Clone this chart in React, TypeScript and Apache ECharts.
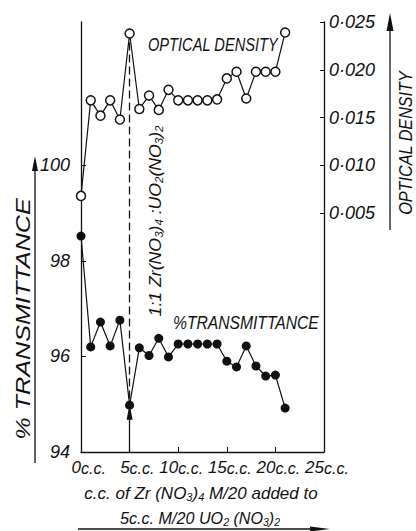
import React, { useEffect, useRef } from 'react';
import * as echarts from 'echarts';

const ccValues = [0, 1, 2, 3, 4, 5, 6, 7, 8, 9, 10, 11, 12, 13, 14, 15, 16, 17, 18, 19, 20, 21];
const opticalDensity = [0.0068, 0.0168, 0.0152, 0.0168, 0.0148, 0.0238, 0.0159, 0.0173, 0.0158, 0.0179, 0.0168, 0.0168, 0.0168, 0.0168, 0.0169, 0.0191, 0.0198, 0.017, 0.0198, 0.0198, 0.0198, 0.0239];
const transmittance = [98.52, 96.2, 96.72, 96.22, 96.76, 94.98, 96.18, 96.02, 96.38, 95.99, 96.26, 96.26, 96.26, 96.26, 96.26, 95.9, 95.78, 96.22, 95.8, 95.59, 95.61, 94.92];
const leftTicks = [94, 96, 98, 100];
const rightTicks = [0.005, 0.01, 0.015, 0.02, 0.025];
const ratioCc = 5;

const FONT = "'Liberation Sans Narrow', 'Liberation Sans', 'DejaVu Sans', sans-serif";
const BLACK = '#111';

const textBase = { fill: BLACK, fontFamily: FONT, fontStyle: 'italic' };
const subStyle = { ...textBase, fontSize: 11, verticalAlign: 'bottom', padding: [8, 0, 0, 0] };

export default function App() {
  const ref = useRef<HTMLDivElement>(null);
  useEffect(() => {
    const chart = echarts.init(ref.current!, null, { renderer: 'svg' });
    const axisLine = { show: true, onZero: false, lineStyle: { color: BLACK, width: 1.3 } };
    const labelBase = { color: BLACK, fontFamily: FONT, fontStyle: 'italic' };
    chart.setOption({
      animation: false,
      backgroundColor: '#fff',
      grid: { left: 81, top: 22, right: 92, bottom: 79 },
      xAxis: [
        {
          type: 'value', min: 0, max: 25, interval: 5, position: 'bottom',
          axisLine, splitLine: { show: false },
          axisTick: { inside: true, length: 5, lineStyle: { color: BLACK } },
          axisLabel: { ...labelBase, fontSize: 17, align: 'right', margin: 7, formatter: (v: number) => String(v) },
        },
        {
          type: 'value', min: 0, max: 25, interval: 5, position: 'bottom',
          axisLine: { show: false, onZero: false }, axisTick: { show: false }, splitLine: { show: false },
          axisLabel: { ...labelBase, fontSize: 16, align: 'left', margin: 8, formatter: () => 'c.c.' },
        },
      ],
      yAxis: [
        {
          type: 'value', position: 'left', min: 94, max: 103, interval: 1,
          axisLine, splitLine: { show: false },
          axisTick: { inside: true, length: 5, customValues: leftTicks, lineStyle: { color: BLACK } },
          axisLabel: { ...labelBase, fontSize: 18, margin: 11, customValues: leftTicks },
        },
        {
          type: 'value', position: 'right', min: -0.02, max: 0.025, interval: 0.005,
          axisLine, splitLine: { show: false },
          axisTick: { inside: true, length: 4, customValues: rightTicks, lineStyle: { color: BLACK } },
          axisLabel: {
            ...labelBase, fontSize: 18, margin: 5, customValues: rightTicks,
            formatter: (v: number) => v.toFixed(3).replace('.', '·'),
          },
        },
      ],
      series: [
        {
          name: '% TRANSMITTANCE', type: 'line', xAxisIndex: 0, yAxisIndex: 0,
          data: ccValues.map((c, i) => [c, transmittance[i]]),
          symbol: 'circle', symbolSize: 9,
          itemStyle: { color: BLACK },
          lineStyle: { color: BLACK, width: 1.2 },
          markLine: {
            silent: true, label: { show: false },
            lineStyle: { color: BLACK, width: 1.3, type: 'solid' },
            data: [
              [
                { coord: [ratioCc, 95.12], symbol: 'none', lineStyle: { type: [8, 4], color: BLACK, width: 1.3 } },
                { coord: [ratioCc, 102.66], symbol: 'none' },
              ],
              [
                { coord: [ratioCc, 94], symbol: 'none' },
                { coord: [ratioCc, 94.84], symbol: 'triangle', symbolSize: [6, 16] },
              ],
            ],
          },
        },
        {
          name: 'OPTICAL DENSITY', type: 'line', xAxisIndex: 0, yAxisIndex: 1, z: 3,
          data: ccValues.map((c, i) => [c, opticalDensity[i]]),
          symbol: 'circle', symbolSize: 9,
          itemStyle: { color: '#fff', borderColor: BLACK, borderWidth: 1.5 },
          lineStyle: { color: BLACK, width: 1.2 },
        },
      ],
      graphic: [
        // outer left axis with arrow
        { type: 'line', shape: { x1: 35, y1: 165, x2: 35, y2: 463 }, style: { stroke: BLACK, lineWidth: 1.3 } },
        { type: 'polygon', shape: { points: [[35, 156], [32, 171], [38, 171]] }, style: { fill: BLACK } },
        // outer right axis with arrow
        { type: 'line', shape: { x1: 390, y1: 25, x2: 390, y2: 230 }, style: { stroke: BLACK, lineWidth: 1.3 } },
        { type: 'polygon', shape: { points: [[390, 13], [386.5, 31], [393.5, 31]] }, style: { fill: BLACK } },
        // bottom arrow
        { type: 'line', shape: { x1: 78, y1: 529, x2: 318, y2: 529 }, style: { stroke: BLACK, lineWidth: 1.3 } },
        { type: 'polygon', shape: { points: [[330, 529], [310, 526.5], [310, 531.5]] }, style: { fill: BLACK } },
        // labels
        { type: 'text', x: 148, y: 45, scaleX: 0.77, style: { ...textBase, text: 'OPTICAL DENSITY', fontSize: 19, align: 'left', verticalAlign: 'middle' } },
        { type: 'text', x: 173, y: 323, scaleX: 0.87, style: { ...textBase, text: '%TRANSMITTANCE', fontSize: 18, align: 'left', verticalAlign: 'middle' } },
        { type: 'text', x: 23, y: 319, rotation: Math.PI / 2, scaleX: 1.2, style: { ...textBase, text: '% TRANSMITTANCE', fontSize: 21, align: 'center', verticalAlign: 'middle' } },
        { type: 'text', x: 406, y: 143, rotation: Math.PI / 2, scaleX: 0.9, style: { ...textBase, text: 'OPTICAL DENSITY', fontSize: 18, align: 'center', verticalAlign: 'middle' } },
        {
          type: 'text', x: 155, y: 221, rotation: Math.PI / 2, scaleX: 1.04,
          style: {
            ...textBase, fontSize: 17, align: 'center', verticalAlign: 'middle',
            text: '1:1 Zr(NO{s|3}){s|4} :UO{s|2}(NO{s|3}){s|2}',
            rich: { s: subStyle },
          },
        },
        {
          type: 'text', x: 201, y: 493,
          style: {
            ...textBase, fontSize: 17, align: 'center', verticalAlign: 'middle',
            text: 'c.c. of Zr (NO{s|3}){s|4} M/20 added to',
            rich: { s: subStyle },
          },
        },
        {
          type: 'text', x: 200, y: 518, scaleX: 0.95,
          style: {
            ...textBase, fontSize: 17, align: 'center', verticalAlign: 'middle',
            text: '5c.c. M/20 UO{s|2} (NO{s|3}){s|2}',
            rich: { s: subStyle },
          },
        },
      ],
    });
    return () => chart.dispose();
  }, []);
  return <div ref={ref} style={{ position: 'absolute', left: 0, top: 0, width: 416, height: 531, background: '#fff' }} />;
}
